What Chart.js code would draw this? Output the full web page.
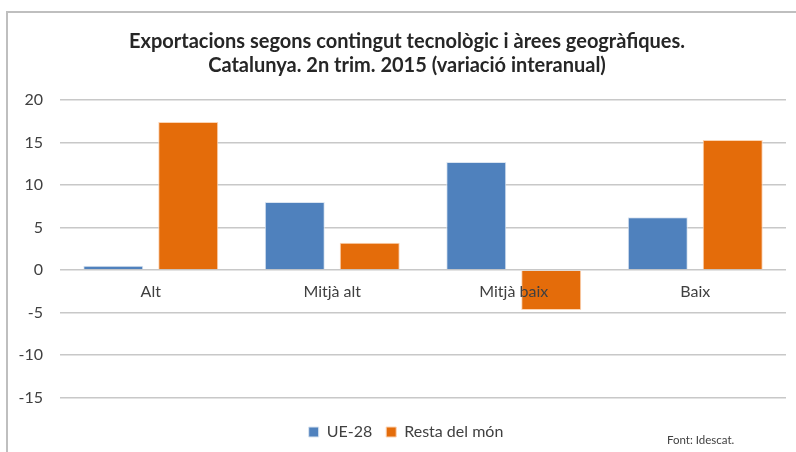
<!DOCTYPE html>
<html>
<head>
<meta charset="utf-8">
<script src="https://cdn.jsdelivr.net/npm/chart.js@4"></script>
<style>
  html, body { margin: 0; padding: 0; background: #fff; }
  #wrap { width: 796px; height: 452px; }
</style>
</head>
<body>
<div id="wrap"><canvas id="chart" width="796" height="452"></canvas></div>
<script>
// Data
const categories = ['Alt', 'Mitjà alt', 'Mitjà baix', 'Baix'];
const ue28 = [0.5, 8.0, 12.7, 6.2];
const restaMon = [17.4, 3.2, -4.7, 15.3];
const yTicks = { min: -15, max: 20, step: 5 };

const FONT = 'Lato, "Open Sans", sans-serif';

// frame + source note, and nudge title/legend a bit to the right like the original
const decor = {
    id: 'decor',
    afterLayout(chart) {
        if (chart.titleBlock) chart.titleBlock.left = 28;
        if (chart.legend) chart.legend.left = 26;
    },
    beforeDraw(chart) {
        const ctx = chart.ctx;
        ctx.save();
        ctx.strokeStyle = '#bfbfbf';
        ctx.lineWidth = 2;
        ctx.beginPath();
        ctx.moveTo(7, 452);
        ctx.lineTo(7, 12);
        ctx.lineTo(796, 12);
        ctx.stroke();
        ctx.restore();
    },
    afterDraw(chart) {
        const ctx = chart.ctx;
        ctx.save();
        ctx.fillStyle = '#404040';
        ctx.font = '11.5px ' + FONT;
        ctx.textBaseline = 'middle';
        ctx.fillText('Font: Idescat.', 667, 440);
        ctx.restore();
    }
};

new Chart(document.getElementById('chart'), {
    type: 'bar',
    data: {
        labels: categories,
        datasets: [
            { label: 'UE-28', data: ue28, backgroundColor: '#4f81bd', borderColor: '#dbe5f1', borderWidth: 1 },
            { label: 'Resta del món', data: restaMon, backgroundColor: '#e46c0a', borderColor: '#fbd4b4', borderWidth: 1 }
        ]
    },
    options: {
        responsive: false,
        animation: false,
        layout: { padding: { top: 24, right: 10, bottom: 2, left: 0 } },
        datasets: { bar: { categoryPercentage: 0.826, barPercentage: 0.8 } },
        plugins: {
            title: {
                display: true,
                text: ['Exportacions segons contingut tecnològic i àrees geogràfiques.',
                       'Catalunya. 2n trim. 2015 (variació interanual)'],
                color: '#262626',
                font: { family: FONT, size: 20, weight: 'bold', lineHeight: 1.2 },
                padding: { top: 6, bottom: 22 }
            },
            legend: {
                position: 'bottom',
                title: { display: true, text: ' ', font: { size: 2 }, padding: 5 },
                labels: {
                    boxWidth: 10, boxHeight: 10, color: '#404040',
                    font: { family: FONT, size: 16 },
                    padding: 14
                }
            },
            tooltip: { enabled: false }
        },
        scales: {
            x: {
                position: { y: 0 },
                grid: { display: false },
                border: { display: false },
                ticks: { z: 1, color: '#404040', font: { family: FONT, size: 16 }, padding: 4 }
            },
            y: {
                min: yTicks.min, max: yTicks.max,
                afterFit(scale) { scale.width = 60; },
                grid: { color: '#c8c8c8', lineWidth: 1.5, drawTicks: false },
                border: { display: false },
                ticks: { stepSize: yTicks.step, color: '#404040', font: { family: FONT, size: 16 }, padding: 17 }
            }
        }
    },
    plugins: [decor]
});
</script>
</body>
</html>
